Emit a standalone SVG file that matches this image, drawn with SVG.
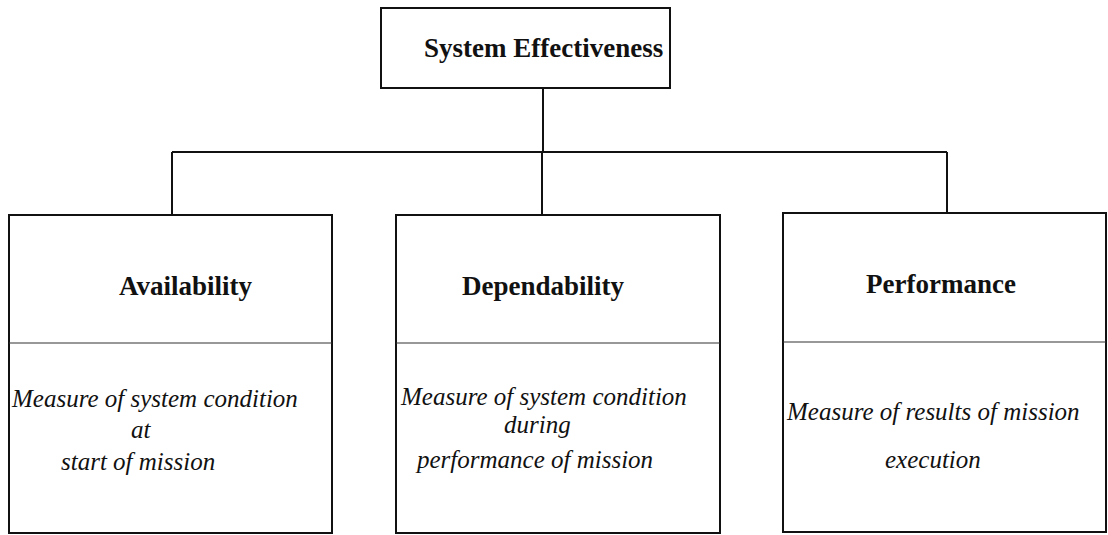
<svg xmlns="http://www.w3.org/2000/svg" width="1108" height="535" viewBox="0 0 1108 535">
  <style>
    .box { fill: none; stroke: #111; stroke-width: 2; }
    .div { stroke: #333; stroke-width: 1.2; }
    .wire { fill: none; stroke: #111; stroke-width: 2; }
    .title { font-family: "Liberation Serif", "Times New Roman", serif; font-weight: bold; font-size: 27px; fill: #111; }
    .desc { font-family: "Liberation Serif", "Times New Roman", serif; font-style: italic; font-size: 25px; fill: #111; }
  </style>
  <rect width="1108" height="535" fill="#fff"/>

  <!-- connectors: trunk from root, bus, and drops to each child -->
  <g id="connectors">
    <path class="wire" d="M543 88 V152"/>
    <path class="wire" d="M172 152 H947"/>
    <path class="wire" d="M172 152 V215"/>
    <path class="wire" d="M542 152 V215"/>
    <path class="wire" d="M947 152 V213"/>
  </g>

  <g id="system-effectiveness">
    <rect class="box" x="381" y="8" width="289" height="80"/>
    <text class="title" x="424" y="57">System Effectiveness</text>
  </g>

  <g id="availability">
    <rect class="box" x="9" y="215" width="323" height="318"/>
    <line class="div" x1="9" y1="343" x2="332" y2="343"/>
    <text class="title" x="119" y="295">Availability</text>
    <text class="desc" x="12" y="407">Measure of system condition</text>
    <text class="desc" x="131" y="438">at</text>
    <text class="desc" x="61" y="470">start of mission</text>
  </g>

  <g id="dependability">
    <rect class="box" x="396" y="215" width="324" height="318"/>
    <line class="div" x1="396" y1="343" x2="720" y2="343"/>
    <text class="title" x="462" y="295">Dependability</text>
    <text class="desc" x="401" y="405">Measure of system condition</text>
    <text class="desc" x="504" y="433">during</text>
    <text class="desc" x="417" y="468">performance of mission</text>
  </g>

  <g id="performance">
    <rect class="box" x="783" y="213" width="323" height="319"/>
    <line class="div" x1="783" y1="342" x2="1106" y2="342"/>
    <text class="title" x="866" y="293">Performance</text>
    <text class="desc" x="787" y="420">Measure of results of mission</text>
    <text class="desc" x="885" y="468">execution</text>
  </g>
</svg>
